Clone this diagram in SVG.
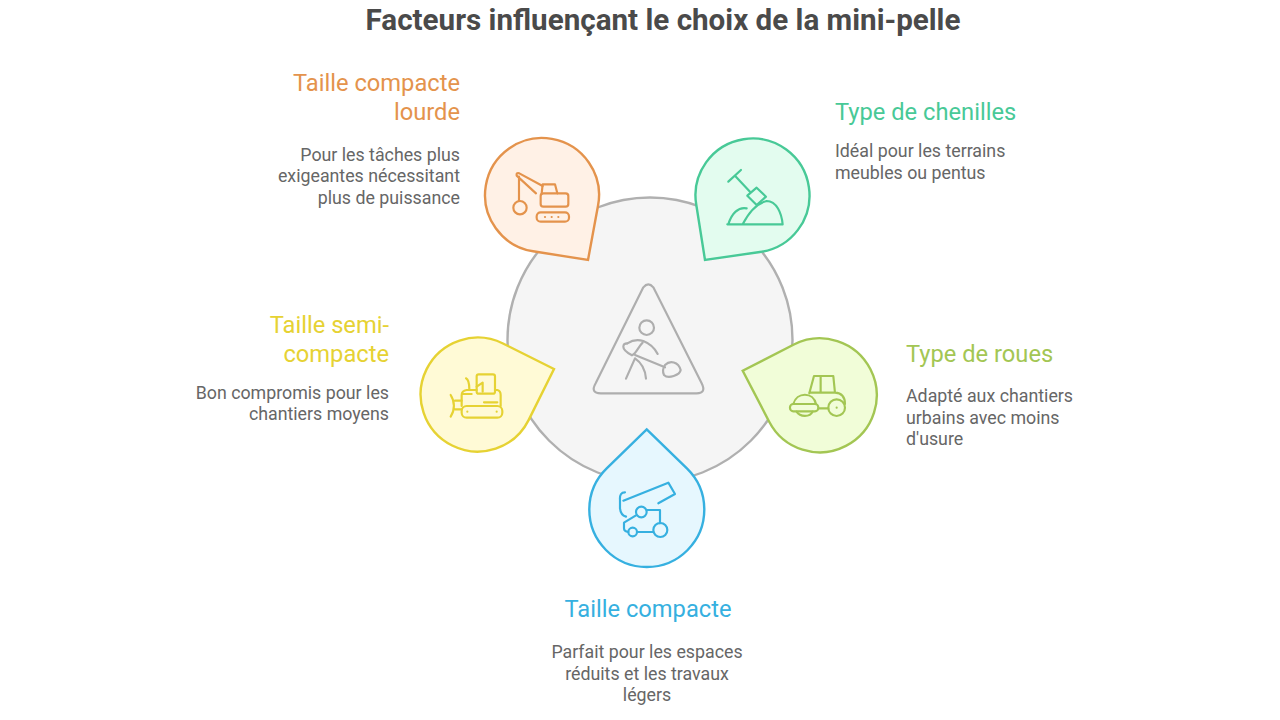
<svg xmlns="http://www.w3.org/2000/svg" width="1280" height="720" viewBox="0 0 1280 720">
<style>
text{font-family:Roboto,"Liberation Sans",sans-serif}
.title{font-size:29.6px;font-weight:700;fill:#4a4a4a}
.h{font-size:23.7px;font-weight:400}
.b{font-size:17.8px;fill:#666}
.e{text-anchor:end}.m{text-anchor:middle}
.drop{stroke-width:2.4;stroke-linejoin:miter}
.ic{fill:none;stroke-width:6.5;stroke-linecap:round;stroke-linejoin:round}
</style>
<rect width="1280" height="720" fill="#fff"/>
<text class="title m" x="663" y="30">Facteurs influençant le choix de la mini-pelle</text>
<g id="connectors"/>
<g id="center">
<circle cx="650" cy="340" r="142.5" fill="#f5f5f5" stroke="#b0b0b0" stroke-width="2.4"/>
<g class="ic" stroke="#aeaeae" transform="translate(590 280) scale(.3333)">
<path d="M160,22Q175,4 190,22L335,310Q350,340 320,340H32Q0,340 17,310Z"/>
<circle cx="170" cy="143" r="22"/>
<path d="M112,190Q135,175 160,183Q190,195 203,222"/>
<path d="M158,188C145,200 138,222 126,226Q100,212 100,200Q100,190 112,190"/>
<path d="M108,296L135,235Q165,255 168,296"/>
<path d="M135,225L225,262"/>
<path d="M225,255C240,240 265,245 272,270C270,285 235,298 222,285Q215,270 225,255Z"/>
</g>
</g>
<g id="node-orange">
<path class="drop" fill="#fff1e6" stroke="#e4934c" d="M588,260L598.1,205.3A57,57 0 1 0 533.1,251.3Z"/>
<g class="ic" stroke="#e4934c" transform="translate(470 125) scale(.3333)">
<path d="M218,183L148,145Q138,142 140,152L198,205M147,155V228"/>
<circle cx="150" cy="248" r="20"/>
<path d="M215,205L218,178H255L262,205"/>
<rect x="212" y="205" width="83" height="40" rx="8"/>
<rect x="200" y="262" width="97" height="28" rx="12"/>
<path d="M225,276h.1M245,276h.1M265,276h.1"/>
</g>
<text class="h e" fill="#e4934c" x="460" y="91">Taille compacte</text>
<text class="h e" fill="#e4934c" x="460" y="120">lourde</text>
<text class="b e" x="460" y="160.5">Pour les tâches plus</text>
<text class="b e" x="460" y="181.5">exigeantes nécessitant</text>
<text class="b e" x="460" y="203.5">plus de puissance</text>
</g>
<g id="node-green">
<path class="drop" fill="#e3fcef" stroke="#48c997" d="M705,260L696.35,205.3A57,57 0 1 1 759.9,252Z"/>
<g class="ic" stroke="#48c997" transform="translate(470 125) scale(.3333)">
<path d="M775,170L813,135M795,152L840,200"/>
<path d="M832,212L860,188L888,215L860,240Z"/>
<path d="M772,298H938M818,298C835,265 860,235 890,228C920,228 935,265 938,298M775,298C785,265 805,245 830,250"/>
</g>
<text class="h" fill="#48c997" x="835" y="120">Type de chenilles</text>
<text class="b" x="835" y="156.5">Idéal pour les terrains</text>
<text class="b" x="835" y="178.5">meubles ou pentus</text>
</g>
<g id="node-yellow">
<path class="drop" fill="#fffad6" stroke="#e6d233" d="M554,369L503,343.5A57,57 0 1 0 528.6,420.1Z"/>
<g class="ic" stroke="#e6d233" transform="translate(410 270) scale(.3333)">
<path d="M122,375C135,395 135,420 122,440M135,392H155M135,418H155"/>
<rect x="155" y="408" width="122" height="35" rx="15"/>
<path d="M155,408V375Q155,362 170,360H200M255,360H262Q272,362 272,375V408M222,397H262M160,372H185"/>
<rect x="200" y="313" width="55" height="58" rx="6"/>
<path d="M168,325C178,330 178,345 178,358M200,350L218,338V365M172,425h.1M260,425h.1"/>
</g>
<text class="h e" fill="#e6d233" x="389" y="333">Taille semi-</text>
<text class="h e" fill="#e6d233" x="389" y="362">compacte</text>
<text class="b e" x="389" y="398.5">Bon compromis pour les</text>
<text class="b e" x="389" y="419.5">chantiers moyens</text>
</g>
<g id="node-lime">
<path class="drop" fill="#f1fdd8" stroke="#a3c653" d="M742.7,370.7L769.2,421.7A57,57 0 1 0 793.9,344.5Z"/>
<g class="ic" stroke="#a3c653" transform="translate(580 330) scale(.3333)">
<path d="M688,190L702,138H760L765,188M722,138V185M688,188H765Q795,190 795,222"/>
<path d="M640,222C650,185 700,185 708,222M650,245C660,262 690,262 698,245"/>
<rect x="630" y="222" width="85" height="22" rx="10"/>
<circle cx="770" cy="233" r="25"/>
<path d="M770,233h.1M715,235H745"/>
</g>
<text class="h" fill="#a3c653" x="906" y="362">Type de roues</text>
<text class="b" x="906" y="401.5">Adapté aux chantiers</text>
<text class="b" x="906" y="423.5">urbains avec moins</text>
<text class="b" x="906" y="444.5">d'usure</text>
</g>
<g id="node-blue">
<path class="drop" fill="#e6f7fe" stroke="#36b0e0" d="M646.7,429.3L686.9,468.3A57.5,57.5 0 1 1 606.7,468.3Z"/>
<g class="ic" stroke="#36b0e0" transform="translate(580 330) scale(.3333)">
<path d="M130,512L265,458L285,492L235,520"/>
<path d="M135,487Q118,487 120,510V535Q122,555 138,560"/>
<circle cx="184" cy="546" r="16"/>
<path d="M200,540H240V580M168,556L132,578V595Q132,605 145,606M172,606H220"/>
<circle cx="158" cy="606" r="13"/>
<circle cx="241" cy="600" r="21"/>
</g>
<text class="h m" fill="#36b0e0" x="648" y="617">Taille compacte</text>
<text class="b m" x="647" y="657.5">Parfait pour les espaces</text>
<text class="b m" x="647" y="679.5">réduits et les travaux</text>
<text class="b m" x="647" y="700.5">légers</text>
</g>
</svg>
